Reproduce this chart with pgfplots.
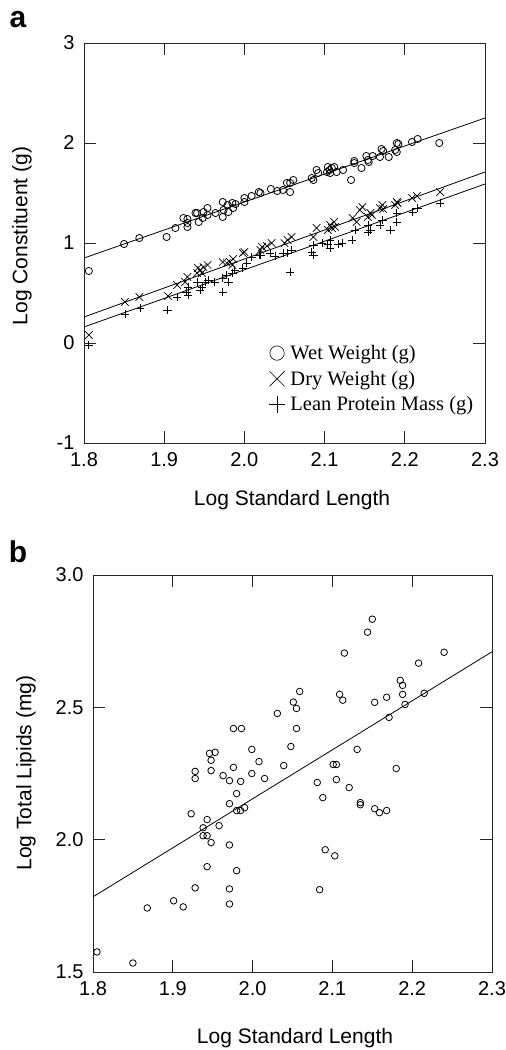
\documentclass[border=0pt]{standalone}
\usepackage{fontspec}
\setmainfont{Liberation Serif}
\setsansfont{Liberation Sans}
\usepackage{pgfplots}
\pgfplotsset{compat=1.18}

\pgfplotsset{
  fish/.style={
    scale only axis,
    axis line style={black!85,line width=0.8pt},
    tick style={black!85,line width=0.8pt},
    tick align=inside,
    major tick length=12pt,
    ticklabel style={font=\sffamily\fontsize{20}{24}\selectfont},
    xticklabel style={yshift=-6pt},
    yticklabel style={xshift=-6pt},
    xtick={1.8,1.9,2.0,2.1,2.2,2.3},
    xticklabels={1.8,1.9,2.0,2.1,2.2,2.3},
    xmin=1.8,xmax=2.3,
  },
  fit/.style={black,line width=0.8pt,no markers,forget plot},
}

\begin{document}
\begin{tikzpicture}
\useasboundingbox (0,0) rectangle (506pt,-1050pt);

\node[font=\sffamily\bfseries\fontsize{30}{30}\selectfont] at (18pt,-20pt) {a};
\node[font=\sffamily\bfseries\fontsize{30}{30}\selectfont] at (18pt,-552pt) {b};

% panel a
\begin{axis}[fish,
  at={(84pt,-443pt)},anchor=south west,
  width=401pt,height=400pt,
  ymin=-1,ymax=3,
  ytick={-1,0,1,2,3},
  yticklabels={-1,0,1,2,3},
  legend style={at={(rel axis cs:0.46,0.25)},anchor=north west,
    draw=none,fill=none,font=\rmfamily\fontsize{20.5}{22}\selectfont,
    row sep=6pt,inner sep=0pt},
  legend cell align=left,
  legend image code/.code={
    \path (-8pt,0pt) (11pt,0pt);
    \draw[#1,line width=0.6pt,every mark/.append style={scale=2}] plot coordinates {(0pt,0pt)};
  },
]
\addplot[only marks,black,line width=0.8pt,mark=o,mark size=3.6pt] coordinates {
  (2.018,1.51) (2.000,1.45) (2.009,1.47) (2.000,1.41) (1.973,1.41) (1.979,1.38)
  (1.985,1.40) (1.989,1.39) (1.974,1.33) (1.980,1.31) (1.986,1.35) (1.973,1.26)
  (1.964,1.30) (1.954,1.35) (1.949,1.31) (1.954,1.28) (1.948,1.25) (1.941,1.30)
  (1.943,1.21) (1.939,1.30) (1.929,1.24) (1.929,1.20) (1.929,1.16) (1.924,1.25)
  (1.914,1.15) (1.903,1.06) (1.869,1.05) (1.850,0.99) (1.806,0.72)
  (2.243,2.00) (2.216,2.04) (2.209,2.01) (2.190,2.00) (2.192,1.99) (2.188,1.93)
  (2.190,1.91) (2.180,1.86) (2.171,1.94) (2.173,1.92) (2.169,1.86) (2.160,1.87)
  (2.152,1.87) (2.154,1.83) (2.155,1.81) (2.146,1.75) (2.137,1.82) (2.137,1.80)
  (2.133,1.63) (2.123,1.73) (2.115,1.71) (2.112,1.76) (2.109,1.75) (2.106,1.73)
  (2.107,1.70) (2.103,1.71) (2.104,1.76) (2.092,1.70) (2.090,1.73) (2.084,1.65)
  (2.086,1.63) (2.061,1.63) (2.057,1.60) (2.053,1.60) (2.057,1.51) (2.048,1.53)
  (2.041,1.52) (2.033,1.54) (2.020,1.50)
};
\addlegendentry{Wet Weight (g)}
\addplot[only marks,black,line width=0.7pt,mark=x,mark size=5.3pt] coordinates {
  (2.244,1.51) (2.215,1.47) (2.209,1.45) (2.190,1.41) (2.191,1.40) (2.188,1.38)
  (2.172,1.38) (2.169,1.35) (2.173,1.34) (2.157,1.30) (2.154,1.26) (2.159,1.28)
  (2.147,1.36) (2.144,1.33) (2.135,1.25) (2.140,1.21) (2.112,1.21) (2.107,1.18)
  (2.109,1.15) (2.104,1.13) (2.113,1.16) (2.090,1.15) (2.086,1.06) (2.059,1.06)
  (2.054,1.03) (2.050,1.00) (2.034,1.00) (2.020,0.93)
  (2.028,0.97) (2.022,0.96) (2.000,0.91) (1.998,0.90) (1.986,0.84) (1.982,0.81)
  (1.978,0.80) (1.973,0.81) (1.985,0.78) (1.954,0.78) (1.949,0.76) (1.945,0.73)
  (1.947,0.70) (1.942,0.75) (1.941,0.70) (1.929,0.66) (1.926,0.61) (1.916,0.58)
  (1.905,0.47) (1.869,0.46) (1.851,0.41) (1.806,0.08)
};
\addlegendentry{Dry Weight (g)}
\addplot[only marks,black,line width=0.7pt,mark=+,mark size=4.2pt] coordinates {
  (2.019,0.88) (2.009,0.86) (2.003,0.80) (1.998,0.75) (1.988,0.73) (1.985,0.70)
  (1.980,0.61) (1.978,0.68) (1.973,0.65) (1.973,0.51) (1.963,0.61) (1.955,0.63)
  (1.951,0.61) (1.947,0.56) (1.945,0.53) (1.941,0.61) (1.930,0.56) (1.928,0.51)
  (1.930,0.48) (1.916,0.46) (1.904,0.33) (1.870,0.35) (1.851,0.29) (1.806,-0.02)
  (2.244,1.40) (2.216,1.35) (2.210,1.31) (2.190,1.30) (2.190,1.21) (2.182,1.13)
  (2.172,1.23) (2.169,1.18) (2.154,1.18) (2.157,1.13) (2.154,1.11) (2.138,1.13)
  (2.134,1.03) (2.122,1.00) (2.117,0.99) (2.107,1.03) (2.104,0.99) (2.107,0.95)
  (2.097,1.00) (2.086,0.98) (2.084,0.91) (2.086,0.88) (2.059,0.93) (2.054,0.90)
  (2.048,0.90) (2.038,0.87) (2.032,0.90) (2.020,0.88) (2.057,0.71)
};
\addlegendentry{Lean Protein Mass (g)}
% fitted lines
\addplot[fit] coordinates {(1.8,0.85) (2.3,2.25)};
\addplot[fit] coordinates {(1.8,0.26) (2.3,1.71)};
\addplot[fit] coordinates {(1.8,0.16) (2.3,1.59)};
\end{axis}
\node[font=\sffamily\fontsize{21}{25}\selectfont] at (292pt,-500pt) {Log Standard Length};
\node[font=\sffamily\fontsize{21}{25}\selectfont,rotate=90] at (22pt,-236pt) {Log Constituent (g)};

% panel b
\begin{axis}[fish,
  at={(93pt,-972pt)},anchor=south west,
  width=399pt,height=397pt,
  ymin=1.5,ymax=3.0,
  ytick={1.5,2.0,2.5,3.0},
  yticklabels={1.5,2.0,2.5,3.0},
]
\addplot[only marks,black,line width=0.8pt,mark=o,mark size=3.3pt] coordinates {
  (1.976,2.420) (1.986,2.420)
  (2.150,2.833) (2.144,2.784) (2.115,2.705) (2.240,2.708) (2.208,2.667)
  (2.059,2.560) (2.051,2.520) (2.055,2.496) (2.031,2.477) (2.055,2.420)
  (2.109,2.549) (2.113,2.527) (2.153,2.519) (2.168,2.538) (2.185,2.602)
  (2.188,2.583) (2.188,2.549) (2.191,2.511) (2.215,2.553) (2.171,2.462)
  (1.999,2.341) (1.946,2.326) (1.953,2.330) (1.948,2.300) (2.008,2.295)
  (1.928,2.258) (1.928,2.231) (1.948,2.261) (1.976,2.273) (1.963,2.242)
  (1.971,2.223) (1.985,2.220) (1.999,2.250) (2.015,2.231) (1.980,2.174)
  (1.971,2.136) (1.980,2.110) (1.985,2.110) (1.990,2.121) (1.923,2.098)
  (1.943,2.076) (1.938,2.045) (1.938,2.015) (1.943,2.015) (1.948,1.989)
  (1.958,2.053) (1.971,1.980) (1.943,1.898) (1.980,1.883) (1.928,1.818)
  (1.971,1.814) (1.901,1.769) (1.913,1.746) (1.868,1.742) (1.971,1.757)
  (1.805,1.576) (1.850,1.534)
  (2.048,2.352) (2.039,2.280) (2.131,2.341) (2.101,2.284) (2.105,2.284)
  (2.180,2.269) (2.081,2.216) (2.105,2.227) (2.121,2.197) (2.088,2.159)
  (2.135,2.140) (2.135,2.132) (2.153,2.117) (2.159,2.102) (2.168,2.110)
  (2.091,1.962) (2.103,1.939) (2.084,1.811)
};
\addplot[fit] coordinates {(1.8,1.784) (2.3,2.71)};
\end{axis}
\node[font=\sffamily\fontsize{21}{25}\selectfont] at (295pt,-1038pt) {Log Standard Length};
\node[font=\sffamily\fontsize{21}{25}\selectfont,rotate=90] at (26pt,-773pt) {Log Total Lipids (mg)};
\end{tikzpicture}
\end{document}
